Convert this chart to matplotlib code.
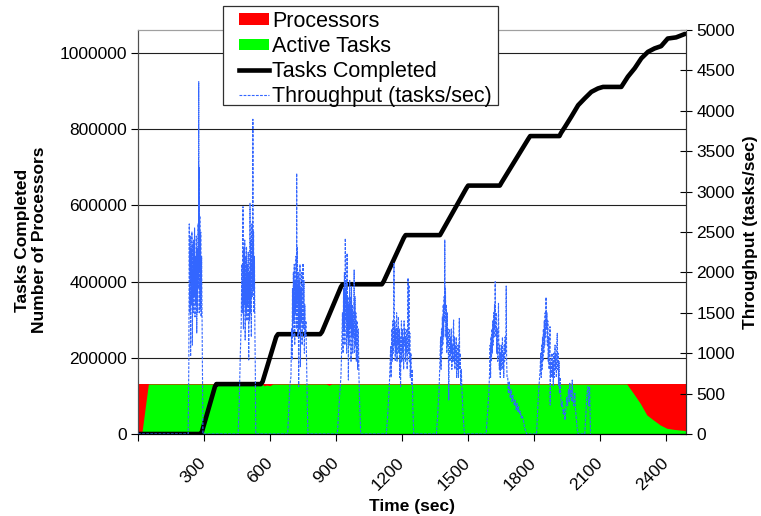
import matplotlib
matplotlib.use("Agg")
import matplotlib.pyplot as plt
from matplotlib.patches import Patch, Rectangle
from matplotlib.lines import Line2D

plt.rcParams['font.family'] = ['Liberation Sans', 'DejaVu Sans']

# processors allocated (left axis)
proc_t = [0, 2490]
proc_n = [131072, 131072]

# active tasks (left axis)
active_t = [0, 17, 47, 565, 572, 585, 600, 612, 855, 868, 880, 2221, 2251, 2282,
            2312, 2342, 2373, 2403, 2433, 2490]
active_n = [0, 0, 131072, 131072, 126500, 128500, 126800, 131072, 131072, 128000,
            131072, 131072, 106800, 80600, 49900, 36700, 23600, 15000, 12300, 8700]

# tasks completed (left axis)
done_t = [0, 285, 290, 350, 356, 558, 566, 628, 636, 828, 836, 922, 930, 1108, 1116,
          1208, 1216, 1372, 1380, 1492, 1500, 1644, 1652, 1774, 1782, 1915, 1922,
          1940, 1969, 2000, 2030, 2060, 2090, 2113, 2196, 2226, 2257, 2287, 2317,
          2347, 2377, 2407, 2445, 2485]
done_n = [0, 0, 5000, 125000, 131000, 131000, 137000, 255000, 262000, 262000,
          268000, 386000, 393000, 393000, 400000, 515000, 522000, 522000, 530000,
          645000, 652000, 652000, 660000, 775000, 782000, 782000, 790000, 806000,
          833000, 863000, 881000, 898000, 907000, 911000, 911000, 938000, 960000,
          986000, 1003000, 1012000, 1018000, 1038000, 1041000, 1050000]

# throughput (right axis), one list of (time, tasks/sec) per burst
idle_start = [(0, 0), (228, 0)]
burst1 = [(231, 900), (233, 2600), (235, 1500), (237, 2450), (239, 960), (241, 2300),
          (243, 1600), (245, 2500), (247, 1100), (249, 2350), (251, 1500), (253, 2400),
          (255, 1700), (257, 2550), (259, 1450), (261, 2200), (263, 1600), (265, 2450),
          (267, 1250), (269, 2300), (271, 1500), (273, 2600), (275, 1800), (276, 4360),
          (277, 2000), (278, 3300), (279, 1500), (281, 2700), (283, 1550), (285, 2500),
          (287, 1450), (289, 2200), (291, 1400), (293, 600), (295, 0), (455, 0)]
burst2 = [(460, 400), (465, 1000), (469, 1370), (472, 2100), (474, 1500), (477, 2813),
          (479, 1300), (481, 2300), (483, 1600), (485, 2400), (487, 1163), (489, 2200),
          (491, 1500), (493, 2318), (495, 1400), (497, 2100), (499, 1600), (501, 2250),
          (503, 916), (505, 2000), (507, 1400), (509, 2855), (511, 1500), (513, 2400),
          (515, 1200), (517, 2600), (519, 1700), (521, 2300), (522, 3895), (523, 1800),
          (525, 2500), (527, 1500), (529, 2200), (531, 1300), (533, 800), (535, 0),
          (680, 0)]
burst3 = [(685, 300), (690, 600), (695, 709), (698, 1300), (700, 916), (702, 1800),
          (704, 1200), (706, 2000), (708, 1400), (710, 2100), (712, 1100), (714, 1900),
          (716, 1500), (718, 2200), (720, 1300), (721, 3226), (722, 1600), (724, 2318),
          (726, 1200), (728, 2000), (730, 585), (732, 1900), (734, 1300), (736, 2100),
          (738, 833), (740, 1800), (742, 1400), (744, 2000), (746, 1100), (748, 1700),
          (750, 2112), (752, 1300), (754, 1900), (756, 1000), (758, 1600), (760, 1200),
          (763, 1400), (766, 900), (769, 400), (772, 0), (906, 0)]
burst4 = [(912, 300), (918, 550), (922, 709), (926, 1100), (929, 1500), (932, 1000),
          (934, 1800), (936, 1300), (938, 2000), (940, 1100), (942, 2422), (944, 1400),
          (946, 1900), (948, 1000), (950, 2236), (952, 1200), (954, 1700), (956, 668),
          (958, 1600), (960, 1100), (962, 1900), (964, 1300), (966, 1700), (968, 900),
          (970, 1823), (972, 1200), (974, 1600), (976, 1000), (978, 1500), (980, 1200),
          (982, 2030), (984, 1000), (986, 1700), (988, 1100), (990, 1500), (992, 900),
          (995, 1400), (998, 800), (1001, 1300), (1004, 709), (1008, 300), (1012, 0),
          (1128, 0)]
burst5 = [(1135, 250), (1142, 600), (1148, 1080), (1150, 700), (1153, 1300), (1155, 900),
          (1158, 1400), (1161, 1000), (1163, 2112), (1165, 1100), (1167, 1400), (1169, 900),
          (1171, 1300), (1173, 1000), (1175, 1500), (1177, 900), (1179, 1300), (1181, 1100),
          (1183, 1450), (1185, 1000), (1187, 1300), (1189, 700), (1191, 1200), (1193, 585),
          (1195, 1100), (1197, 1400), (1199, 900), (1201, 1300), (1203, 1000), (1205, 1200),
          (1207, 800), (1209, 1400), (1211, 1100), (1213, 1300), (1215, 900), (1217, 1200),
          (1219, 1000), (1221, 1300), (1223, 800), (1225, 1200), (1227, 1931), (1229, 1000),
          (1231, 1844), (1233, 900), (1235, 1250), (1237, 700), (1240, 1000), (1243, 600),
          (1246, 800), (1249, 300), (1253, 0), (1356, 0)]
burst6 = [(1362, 250), (1368, 545), (1372, 900), (1375, 1200), (1377, 800), (1379, 1300),
          (1381, 1000), (1383, 1450), (1385, 1100), (1387, 1600), (1389, 1200), (1391, 1700),
          (1393, 1400), (1394, 2401), (1395, 1535), (1397, 1800), (1399, 1200), (1401, 1600),
          (1403, 1000), (1405, 1500), (1407, 1100), (1409, 1300), (1411, 800), (1412, 421),
          (1414, 1100), (1416, 1300), (1418, 900), (1420, 1200), (1422, 1000), (1424, 1300),
          (1426, 800), (1428, 1100), (1430, 900), (1432, 1200), (1434, 1411), (1436, 900),
          (1438, 1200), (1440, 800), (1442, 1100), (1444, 900), (1446, 1200), (1448, 700),
          (1450, 1000), (1452, 800), (1454, 1100), (1456, 700), (1458, 1000), (1460, 1431),
          (1462, 800), (1464, 1000), (1466, 600), (1469, 800), (1472, 545), (1477, 250),
          (1483, 0), (1582, 0)]
burst7 = [(1588, 250), (1594, 503), (1598, 800), (1600, 1100), (1602, 700), (1604, 1200),
          (1606, 900), (1608, 1300), (1610, 1000), (1612, 1400), (1614, 1100), (1616, 1500),
          (1618, 1200), (1620, 1600), (1622, 1300), (1623, 1885), (1624, 1400), (1626, 1200),
          (1628, 1500), (1630, 1000), (1632, 1300), (1634, 900), (1636, 1200), (1638, 1617),
          (1640, 1000), (1642, 800), (1644, 1100), (1646, 700), (1648, 1000), (1650, 800),
          (1652, 1100), (1654, 900), (1656, 1200), (1658, 800), (1660, 1000), (1662, 700),
          (1664, 1100), (1666, 900), (1668, 1200), (1670, 1000), (1672, 1300), (1673, 1832),
          (1675, 900), (1677, 700), (1680, 700), (1683, 503), (1687, 650), (1691, 450),
          (1695, 550), (1699, 400), (1703, 480), (1706, 421), (1710, 350), (1714, 420),
          (1718, 300), (1722, 380), (1726, 280), (1729, 338), (1733, 250), (1737, 280),
          (1741, 200), (1745, 230), (1751, 173), (1756, 90), (1761, 40), (1766, 0), (1811, 0)]
burst8 = [(1816, 300), (1821, 550), (1827, 792), (1830, 1000), (1832, 700), (1834, 1100),
          (1836, 800), (1838, 1200), (1840, 900), (1842, 1300), (1844, 1000), (1846, 1400),
          (1848, 1100), (1850, 1500), (1852, 1200), (1854, 1692), (1856, 1300), (1858, 1500),
          (1860, 1100), (1862, 1400), (1864, 900), (1866, 1200), (1868, 800), (1870, 1100),
          (1872, 1328), (1873, 359), (1875, 900), (1877, 700), (1879, 875), (1881, 1000),
          (1883, 700), (1885, 900), (1887, 600), (1889, 1000), (1891, 700), (1893, 900),
          (1895, 1100), (1897, 800), (1899, 1000), (1901, 700), (1903, 1100), (1905, 1246),
          (1907, 800), (1909, 1000), (1911, 600), (1913, 900), (1915, 500), (1918, 700),
          (1921, 450), (1924, 338), (1928, 400), (1932, 250), (1936, 300), (1940, 173),
          (1944, 300), (1948, 450), (1952, 350), (1956, 550), (1960, 400), (1962, 627),
          (1965, 450), (1968, 550), (1971, 400), (1973, 668), (1976, 450), (1980, 350),
          (1985, 503), (1988, 300), (1992, 173), (1996, 60), (2000, 0), (2030, 0)]
burst9 = [(2036, 300), (2040, 500), (2045, 585), (2048, 350), (2052, 585), (2056, 0)]

tput = idle_start + burst1 + burst2 + burst3 + burst4 + burst5 + burst6 + burst7 + burst8 + burst9
tput_t = [p[0] for p in tput]
tput_v = [p[1] for p in tput]

xtick_vals = [0, 300, 600, 900, 1200, 1500, 1800, 2100, 2400]
xtick_labels = ['', '300', '600', '900', '1200', '1500', '1800', '2100', '2400']

fig = plt.figure(figsize=(7.61, 5.16), dpi=100)
ax = fig.add_axes([138 / 761, 1 - 434 / 516, 548 / 761, 404 / 516])

ax.fill_between(proc_t, proc_n, color='#ff0000', lw=0, zorder=1)
ax.fill_between(active_t, active_n, color='#00ff00', lw=0, zorder=1.2)
ax.plot(done_t, done_n, color='black', lw=3.3, solid_joinstyle='round',
        solid_capstyle='round', zorder=3)

ax.set_xlim(0, 2490)
ax.set_ylim(0, 1060400)
ax.set_yticks(range(0, 1000001, 200000))
ax.ticklabel_format(axis='y', style='plain', useOffset=False)
ax.yaxis.grid(True, color='#202020', lw=0.8)
ax.set_xticks(xtick_vals)
ax.set_xticklabels(xtick_labels, rotation=45, ha='right', va='center',
                   rotation_mode='anchor')
ax.tick_params(axis='y', direction='out', length=5, width=0.8, labelsize=12.5, pad=3)
ax.tick_params(axis='x', direction='out', length=5, width=0.8, labelsize=12.5, pad=14)
ax.set_ylabel('Tasks Completed\nNumber of Processors', fontsize=12.5,
              fontweight='bold', linespacing=1.2)
ax.yaxis.set_label_coords(-0.166, 0.48)
ax.set_xlabel('Time (sec)', fontsize=12.5, fontweight='bold', labelpad=4)

ax2 = ax.twinx()
ax2.plot(tput_t, tput_v, color='#3366ff', lw=0.8, ls=(0, (2.5, 1.2)), zorder=4)
ax2.set_ylim(0, 5000)
ax2.set_yticks(range(0, 5001, 500))
ax2.tick_params(axis='y', direction='inout', length=9, width=0.8, labelsize=12.5, pad=3)
ax2.set_ylabel('Throughput (tasks/sec)', fontsize=12.5, fontweight='bold', labelpad=6)

for a in (ax, ax2):
    a.spines['top'].set_color('#a0a0a0')
    a.spines['left'].set_color('#505050')
    a.spines['right'].set_color('#303030')
    a.spines['bottom'].set_color('#000000')

# legend box drawn by hand so its padding can match the original
box = Rectangle((223 / 761, 1 - 105 / 516), 275 / 761, 99 / 516,
                transform=fig.transFigure, facecolor='white', edgecolor='#303030',
                lw=0.9, zorder=4.9)
fig.add_artist(box)

handles = [Patch(facecolor='#ff0000', edgecolor='none'),
           Patch(facecolor='#00ff00', edgecolor='none'),
           Line2D([], [], color='black', lw=3.3),
           Line2D([], [], color='#3366ff', lw=0.8, ls=(0, (2.5, 1.2)))]
labels = ['Processors', 'Active Tasks', 'Tasks Completed', 'Throughput (tasks/sec)']
leg = fig.legend(handles, labels, loc='upper left', bbox_to_anchor=(239 / 761, 1 - 11 / 516),
                 fontsize=15.5, frameon=False, handlelength=1.4, handleheight=0.47,
                 handletextpad=0.15, labelspacing=0.19, borderpad=0, borderaxespad=0)
leg.set_zorder(5)

fig.savefig('out.png', dpi=100)
